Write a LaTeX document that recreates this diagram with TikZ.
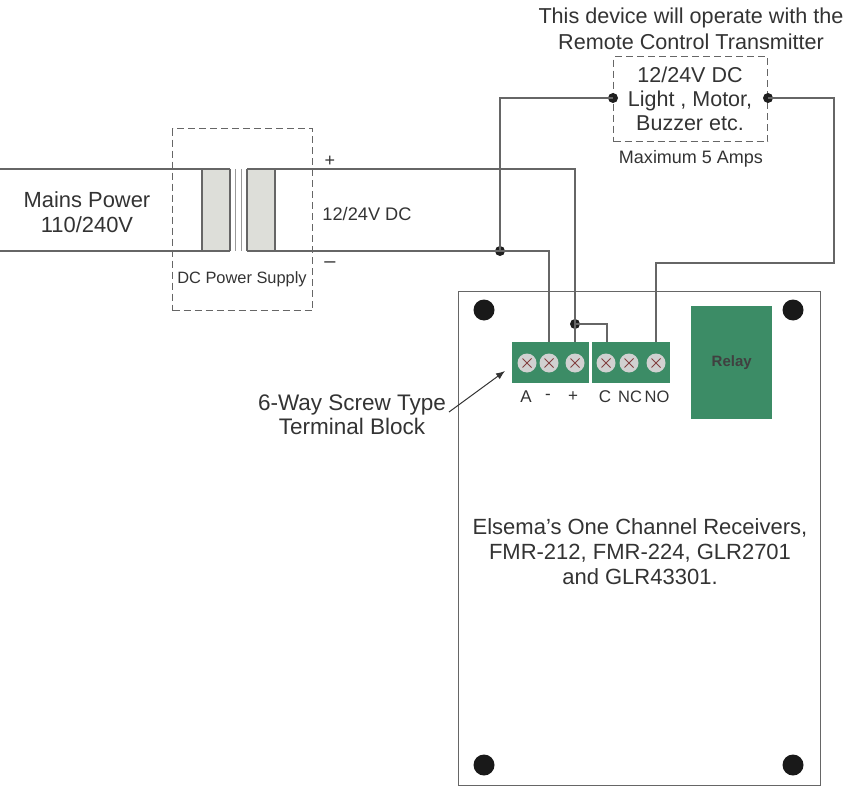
\documentclass[tikz,border=0pt]{standalone}
\usepackage{fontspec}
\setmainfont{Liberation Sans}
\usetikzlibrary{arrows.meta}
\definecolor{grn}{HTML}{3C8C66}
\definecolor{wire}{HTML}{666666}
\definecolor{core}{HTML}{DDDED9}
\definecolor{txt}{HTML}{333333}
\tikzset{
  wireline/.style={draw=wire,line width=1.15pt},
  dashbox/.style={draw=wire,line width=1.2pt,dash pattern=on 7pt off 4pt},
  dotnode/.style={circle,fill=black!88,inner sep=0,minimum size=10pt},
  hole/.style={circle,fill=black!90,inner sep=0,minimum size=21pt},
  txtl/.style={text=txt,align=center,inner sep=0,font=\fontsize{#1}{#1}\selectfont},
  screw/.style={circle,fill=black!18,inner sep=0,minimum size=19pt,path picture={
    \draw[draw=red!35!black!75,line width=.9pt] (path picture bounding box.south west)++(5pt,5pt) -- ++(9pt,9pt);
    \draw[draw=red!35!black!75,line width=.9pt] (path picture bounding box.north west)++(5pt,-5pt) -- ++(9pt,-9pt);}},
  greenbox/.style={fill=grn,draw=none,inner sep=0,anchor=north west},
  corebox/.style={fill=core,draw=none},
  coreedge/.style={draw=wire,line width=1.15pt},
  coregap/.style={draw=black!40,line width=1pt},
}
\begin{document}
\begin{tikzpicture}[x=1pt,y=-1pt]
\useasboundingbox (0,0) rectangle (850,786);
% board
\node[draw=wire,line width=1.15pt,anchor=north west,inner sep=0,minimum width=362pt,minimum height=494pt] (board) at (458,291) {};
\foreach \n/\x/\y in {h1/484/310,h2/793/310,h3/484/765,h4/793/765}
  \node[hole] (\n) at (\x,\y) {};
% terminal blocks and relay
\node[greenbox,minimum width=77pt,minimum height=41pt] (blockA) at (512,342) {};
\node[greenbox,minimum width=78pt,minimum height=41pt] (blockB) at (592,342) {};
\node[greenbox,minimum width=81pt,minimum height=113pt,font=\fontsize{15}{15}\selectfont\bfseries,text=black!75] (relay) at (691,306) {\raisebox{1pt}{Relay}};
\foreach \n/\x in {sa/527,sm/549,sp/575,sc/606,snc/629,sno/656}
  \node[screw] (\n) at (\x,363) {};
% power supply
\fill[corebox] (201,169) rectangle (230,251);
\fill[corebox] (276,169) rectangle (247,251);
\draw[coreedge,line width=2.6pt] (202,169) -- (202,251);
\draw[coreedge] (230,169) -- (230,251);
\draw[coregap] (235,169) -- (235,251) (241.5,169) -- (241.5,251);
\draw[coreedge] (247,169) -- (247,251);
\draw[coreedge,line width=2.6pt] (275,169) -- (275,251);
\node[dashbox,anchor=north west,inner sep=0,minimum width=140pt,minimum height=182pt] (psu) at (172,128) {};
\node[dashbox,anchor=north west,inner sep=0,minimum width=154pt,minimum height=85pt] (load) at (613,56) {};
% connection points
\coordinate (inTop) at (0,169);
\coordinate (inBot) at (0,251);
\coordinate (coreLT) at (230,169);
\coordinate (coreLB) at (230,251);
\coordinate (coreRT) at (247,169);
\coordinate (coreRB) at (247,251);
\node[dotnode] (dj) at (500,251) {};
\node[dotnode] (dp) at (575,324) {};
\node[dotnode] (dl) at (613,98) {};
\node[dotnode] (dr) at (768,98) {};
% wires
\draw[wireline] (inTop) -- (coreLT);
\draw[wireline] (inBot) -- (coreLB);
\draw[wireline] (coreRT) -- (575,169) -- (dp.center) -- (575,342);
\draw[wireline] (coreRB) -- (549,251) -- (549,342);
\draw[wireline] (dj.center) -- (500,98) -- (dl.center);
\draw[wireline] (dr.center) -- (834,98) -- (834,263) -- (656,263) -- (656,342);
\draw[wireline] (dp.center) -- (607,324) -- (607,342);
% arrow
\coordinate (arrowStart) at (449,412);
\coordinate (arrowEnd) at (505,371);
\draw[draw=black!80,line width=1pt,-{Latex[length=9pt,width=7pt]}] (arrowStart) -- (arrowEnd);
% labels
\node[txtl=21.6] (t1) at (691,18) {This device will operate with the};
\node[txtl=21.6] (t2) at (691,42) {Remote Control Transmitter};
\node[txtl=21.5] (t3) at (690,99) {12/24V DC\\[2.5pt]Light , Motor,\\[2.5pt]Buzzer etc.};
\node[txtl=18] (t4) at (691,159) {Maximum 5 Amps};
\node[txtl=21.9] (t5) at (87,212) {Mains Power\\[2.5pt]110/240V};
\node[txtl=18.2] (t6) at (367,214) {12/24V DC};
\node[txtl=16.4] (t7) at (242,279) {DC Power Supply};
\node[txtl=18] (t8) at (330,161) {+};
\node[txtl=20] (t9) at (330,265) {–};
\node[txtl=22.5] (t10) at (352,415) {6-Way Screw Type\\[1.5pt]Terminal Block};
\node[txtl=17] (la) at (526,397) {A};
\node[txtl=17] (lm) at (548,397) {-};
\node[txtl=17] (lp) at (573,397) {+};
\node[txtl=17] (lc) at (605,397) {C};
\node[txtl=16.5] (lnc) at (630,397) {NC};
\node[txtl=16.5] (lno) at (657,397) {NO};
\node[txtl=22] (t11) at (640,552) {Elsema's One Channel Receivers,\\[3pt]FMR-212, FMR-224, GLR2701\\[3pt]and GLR43301.};
\end{tikzpicture}
\end{document}
